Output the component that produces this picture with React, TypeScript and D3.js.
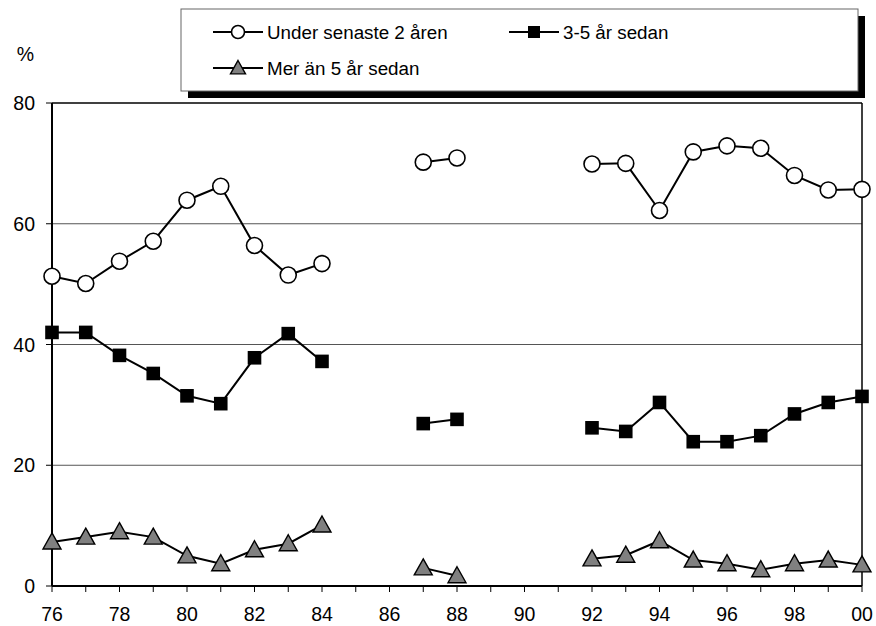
import React from "react";
import * as d3 from "d3";

// Survey years (two-digit labels); null marks years without data
const years = [76, 77, 78, 79, 80, 81, 82, 83, 84, 85, 86, 87, 88, 89, 90, 91, 92, 93, 94, 95, 96, 97, 98, 99, 100];
const under2: (number | null)[] = [51.3, 50.1, 53.8, 57.1, 63.9, 66.2, 56.4, 51.5, 53.4, null, null, 70.2, 70.9, null, null, null, 69.9, 70.0, 62.2, 71.9, 72.9, 72.5, 68.0, 65.6, 65.7];
const yrs3to5: (number | null)[] = [42.0, 42.0, 38.2, 35.2, 31.5, 30.2, 37.8, 41.8, 37.2, null, null, 26.9, 27.6, null, null, null, 26.2, 25.6, 30.4, 23.9, 23.9, 24.9, 28.5, 30.4, 31.4];
const over5: (number | null)[] = [7.3, 8.1, 9.0, 8.1, 5.0, 3.7, 6.0, 7.0, 10.1, null, null, 3.0, 1.7, null, null, null, 4.5, 5.1, 7.5, 4.3, 3.7, 2.7, 3.7, 4.3, 3.5];

const seriesNames = ["Under senaste 2 åren", "3-5 år sedan", "Mer än 5 år sedan"];
const xTickValues = [76, 78, 80, 82, 84, 86, 88, 90, 92, 94, 96, 98, 100];
const yTickValues = [0, 20, 40, 60, 80];

const W = 876;
const H = 626;
const left = 52;
const right = 862;
const top = 103;
const bottom = 586;
const FONT = "'Liberation Sans', Arial, sans-serif";

const x = d3.scaleLinear().domain([76, 100]).range([left, right]);
const y = d3.scaleLinear().domain([0, 80]).range([bottom, top]);

type Marker = "circle" | "square" | "triangle";

function MarkerShape({ kind, cx, cy, small }: { kind: Marker; cx: number; cy: number; small?: boolean }) {
  if (kind === "circle") {
    return <circle cx={cx} cy={cy} r={small ? 6.5 : 8} fill="#fff" stroke="#000" strokeWidth={1.6} />;
  }
  if (kind === "square") {
    const h = small ? 6 : 6.8;
    return <rect x={cx - h} y={cy - h} width={2 * h} height={2 * h} fill="#000" />;
  }
  const s = small ? 7.5 : 9;
  return (
    <path
      d={`M${cx},${cy - s} L${cx + s},${cy + s * 0.78} L${cx - s},${cy + s * 0.78} Z`}
      fill="#808080"
      stroke="#000"
      strokeWidth={1.4}
      strokeLinejoin="miter"
    />
  );
}

function Series({ values, kind }: { values: (number | null)[]; kind: Marker }) {
  const line = d3
    .line<number | null>()
    .defined((d) => d !== null)
    .x((_, i) => x(years[i]))
    .y((d) => y(d as number));
  return (
    <g>
      <path d={line(values) || ""} fill="none" stroke="#000" strokeWidth={2} />
      {values.map((v, i) =>
        v === null ? null : <MarkerShape key={i} kind={kind} cx={x(years[i])} cy={y(v)} />
      )}
    </g>
  );
}

function LegendItem({ lx, ly, kind, label }: { lx: number; ly: number; kind: Marker; label: string }) {
  return (
    <g>
      <line x1={lx} x2={lx + 50} y1={ly} y2={ly} stroke="#000" strokeWidth={2} />
      <MarkerShape kind={kind} cx={lx + 25} cy={ly} small />
      <text x={lx + 54} y={ly + 6.5} fontSize={18.8} fontFamily={FONT} fill="#000">
        {label}
      </text>
    </g>
  );
}

export default function App() {
  const fmt = (v: number) => (v === 100 ? "00" : String(v));
  return (
    <svg width={W} height={H} style={{ position: "absolute", left: 0, top: 0 }}>
      <rect width={W} height={H} fill="#fff" />
      {/* horizontal gridlines */}
      {[20, 40, 60].map((v) => (
        <line key={v} x1={left} x2={right} y1={y(v)} y2={y(v)} stroke="#555" strokeWidth={1} />
      ))}
      {/* plot frame */}
      <line x1={left} x2={right} y1={top} y2={top} stroke="#000" strokeWidth={1.5} />
      <line x1={right} x2={right} y1={top} y2={bottom} stroke="#000" strokeWidth={1.5} />
      <line x1={left} x2={left} y1={top} y2={bottom} stroke="#000" strokeWidth={2} />
      <line x1={left} x2={right} y1={bottom} y2={bottom} stroke="#000" strokeWidth={2} />
      {/* y ticks */}
      {yTickValues.map((v) => (
        <g key={v}>
          <line x1={left - 6} x2={left} y1={y(v)} y2={y(v)} stroke="#000" strokeWidth={1} />
          <text x={35} y={y(v) + 7} textAnchor="end" fontSize={19.5} fontFamily={FONT} fill="#000">
            {v}
          </text>
        </g>
      ))}
      <text x={34} y={61} textAnchor="end" fontSize={19.5} fontFamily={FONT} fill="#000">
        %
      </text>
      {/* x ticks */}
      {years.map((v) => (
        <line key={v} x1={x(v)} x2={x(v)} y1={bottom} y2={bottom + 6} stroke="#000" strokeWidth={1} />
      ))}
      {xTickValues.map((v) => (
        <text key={v} x={x(v)} y={621} textAnchor="middle" fontSize={19.5} fontFamily={FONT} fill="#000">
          {fmt(v)}
        </text>
      ))}
      <Series values={under2} kind="circle" />
      <Series values={yrs3to5} kind="square" />
      <Series values={over5} kind="triangle" />
      {/* legend with drop shadow */}
      <rect x={188} y={16} width={677} height={82} fill="#000" />
      <rect x={181} y={9} width={677} height={82} fill="#fff" stroke="#666" strokeWidth={1} />
      <LegendItem lx={213} ly={32} kind="circle" label={seriesNames[0]} />
      <LegendItem lx={509} ly={32} kind="square" label={seriesNames[1]} />
      <LegendItem lx={213} ly={68} kind="triangle" label={seriesNames[2]} />
    </svg>
  );
}
